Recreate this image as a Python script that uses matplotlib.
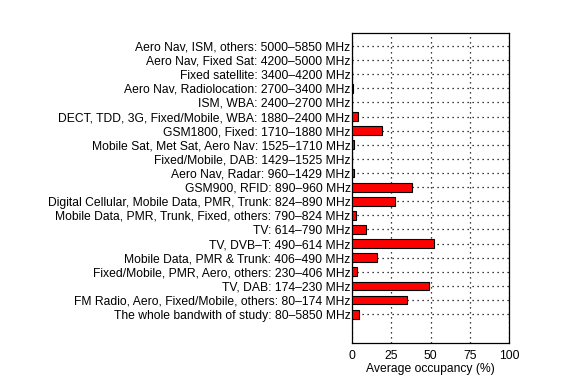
import numpy as np
import matplotlib.pyplot as plt

plt.rcParams['font.family'] = ['Liberation Sans', 'DejaVu Sans']

# bottom to top
bands = [
    'The whole bandwith of study: 80\u20135850 MHz',
    'FM Radio, Aero, Fixed/Mobile, others: 80\u2013174 MHz',
    'TV, DAB: 174\u2013230 MHz',
    'Fixed/Mobile, PMR, Aero, others: 230\u2013406 MHz',
    'Mobile Data, PMR & Trunk: 406\u2013490 MHz',
    'TV, DVB\u2013T: 490\u2013614 MHz',
    'TV: 614\u2013790 MHz',
    'Mobile Data, PMR, Trunk, Fixed, others: 790\u2013824 MHz',
    'Digital Cellular, Mobile Data, PMR, Trunk: 824\u2013890 MHz',
    'GSM900, RFID: 890\u2013960 MHz',
    'Aero Nav, Radar: 960\u20131429 MHz',
    'Fixed/Mobile, DAB: 1429\u20131525 MHz',
    'Mobile Sat, Met Sat, Aero Nav: 1525\u20131710 MHz',
    'GSM1800, Fixed: 1710\u20131880 MHz',
    'DECT, TDD, 3G, Fixed/Mobile, WBA: 1880\u20132400 MHz',
    'ISM, WBA: 2400\u20132700 MHz',
    'Aero Nav, Radiolocation: 2700\u20133400 MHz',
    'Fixed satellite: 3400\u20134200 MHz',
    'Aero Nav, Fixed Sat: 4200\u20135000 MHz',
    'Aero Nav, ISM, others: 5000\u20135850 MHz',
]
occupancy = [4.5, 35.3, 49.3, 3.2, 15.9, 52.2, 8.9, 2.6, 27.6, 38.5,
             1.0, 0.3, 1.0, 19.4, 4.1, 0.2, 0.9, 0.05, 0.05, 0.1]

fig = plt.figure(figsize=(5.76, 3.86), dpi=100)
ax = fig.add_axes([0.611, 0.111, 0.273, 0.804])

y = np.arange(1, len(bands) + 1)
ax.barh(y, occupancy, height=0.62, color='#ff0000', edgecolor='black', linewidth=0.8, zorder=3)

ax.set_xlim(0, 100)
ax.set_ylim(-1.05, 20.93)
ax.set_xticks([0, 25, 50, 75, 100])
ax.set_yticks(y)
ax.set_yticklabels(bands, fontsize=8.7)
ax.tick_params(axis='x', labelsize=8.7, length=0, pad=5)
ax.tick_params(axis='y', length=0, pad=1)
ax.grid(True, color='black', linestyle=(0, (1, 3)), linewidth=0.9, zorder=0)
ax.set_xlabel('Average occupancy (%)', fontsize=8.7, labelpad=1)
for s in ax.spines.values():
    s.set_linewidth(0.9)

fig.savefig('out.png', dpi=100)
